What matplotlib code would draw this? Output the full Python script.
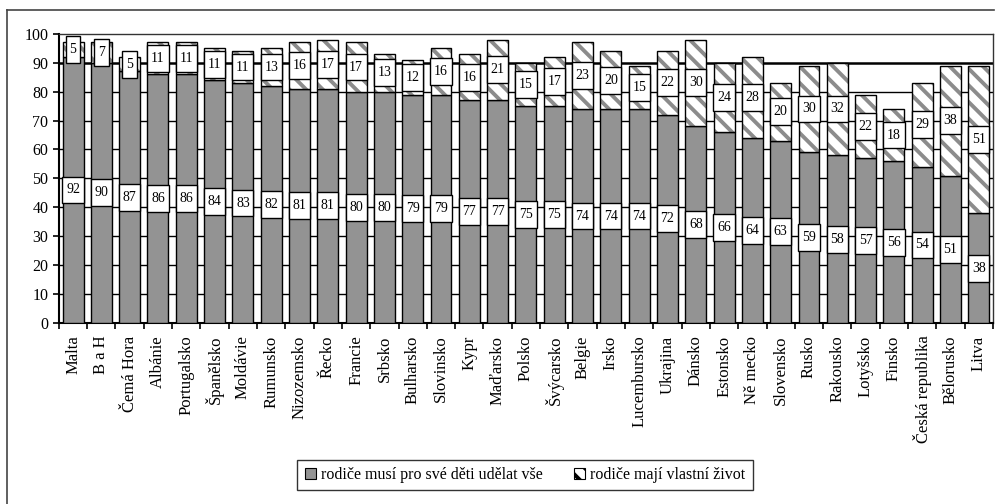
# stacked bars: parents must do everything vs parents have own life

import matplotlib.pyplot as plt
import numpy as np
from matplotlib.patches import Patch, Rectangle

plt.rcParams["font.family"] = ["Liberation Serif", "DejaVu Serif"]
plt.rcParams["hatch.linewidth"] = 2.8
plt.rcParams["hatch.color"] = "#8c8c8c"

countries = ["Malta", "B a H", "Čemá Hora", "Albánie", "Portugalsko", "Španělsko",
             "Moldávie", "Rumunsko", "Nizozemsko", "Řecko", "Francie", "Srbsko",
             "Bulharsko", "Slovinsko", "Kypr", "Maďarsko", "Polsko", "Švýcarsko",
             "Belgie", "Irsko", "Lucembursko", "Ukrajina", "Dánsko", "Estonsko",
             "Ně mecko", "Slovensko", "Rusko", "Rakousko", "Lotyšsko", "Finsko",
             "Česká republika", "Bělorusko", "Litva"]
must_do_all = [92, 90, 87, 86, 86, 84, 83, 82, 81, 81, 80, 80, 79, 79, 77, 77, 75,
               75, 74, 74, 74, 72, 68, 66, 64, 63, 59, 58, 57, 56, 54, 51, 38]
own_life = [5, 7, 5, 11, 11, 11, 11, 13, 16, 17, 17, 13, 12, 16, 16, 21, 15, 17,
            23, 20, 15, 22, 30, 24, 28, 20, 30, 32, 22, 18, 29, 38, 51]
series_names = ["rodiče musí pro své děti udělat vše", "rodiče mají vlastní život"]

x = np.arange(len(countries))
bottom = np.array(must_do_all)
top = np.array(own_life)

fig = plt.figure(figsize=(9.98, 5.04), dpi=100)
ax = fig.add_axes([0.059, 0.359, 0.936, 0.574])

# outer frame of the whole chart
fig.add_artist(plt.Line2D([0.007, 0.007], [0.0, 0.980], color="#444444", lw=1.2))
fig.add_artist(plt.Line2D([0.007, 0.996], [0.980, 0.980], color="#444444", lw=1.2))

w = 0.74
ax.bar(x, bottom, w, color="#939393", edgecolor="black", lw=1.0, zorder=3)
ax.bar(x, top, w, bottom=bottom, color="white", edgecolor="#8c8c8c", lw=0,
       hatch="\\\\", zorder=3)
ax.bar(x, top, w, bottom=bottom, color="none", edgecolor="black", lw=1.0, zorder=4)

# value boxes: tall white rectangles, width follows the number of digits
box_h = 9.3
def value_box(xc, yc, val):
    bw = (6.6 * len(str(val)) + 8) / 28.3
    ax.add_patch(Rectangle((xc - bw / 2, yc - box_h / 2), bw, box_h, fc="white",
                           ec="black", lw=1.0, zorder=5))
    ax.text(xc, yc, str(val), ha="center", va="center", fontsize=10, zorder=6)

for i in x:
    value_box(i, bottom[i] / 2, bottom[i])
    value_box(i, bottom[i] + top[i] / 2, top[i])

for yv in range(10, 100, 10):
    ax.axhline(yv, color="black", lw=1.8 if yv == 90 else 1.0, zorder=1)

ax.set_ylim(0, 100)
ax.set_xlim(-0.5, len(countries) - 0.5)
ax.set_yticks(range(0, 101, 10))
ax.tick_params(axis="y", labelsize=11.5, direction="out", length=4, width=1.2)
ax.set_xticks(x)
ax.set_xticklabels(countries, rotation=90, fontsize=12)
ax.tick_params(axis="x", length=0, pad=9)
ax.set_xticks(np.arange(len(countries) + 1) - 0.5, minor=True)
ax.tick_params(axis="x", which="minor", length=4, width=1.2, direction="out")
for s in ["left", "bottom"]:
    ax.spines[s].set_linewidth(1.5)
for s in ["top", "right"]:
    ax.spines[s].set_linewidth(1.0)
    ax.spines[s].set_color("#333333")

handles = [Patch(fc="#939393", ec="black", lw=0.8),
           Patch(fc="white", ec="black", lw=0.8, hatch="\\\\")]
fig.legend(handles, series_names, loc="center", bbox_to_anchor=(0.526, 0.057),
           ncol=2, fontsize=11.5, frameon=True, fancybox=False, edgecolor="black",
           handlelength=0.7, handleheight=0.7, handletextpad=0.3, columnspacing=2.0,
           borderpad=0.45)

fig.savefig("out.png", dpi=100)
